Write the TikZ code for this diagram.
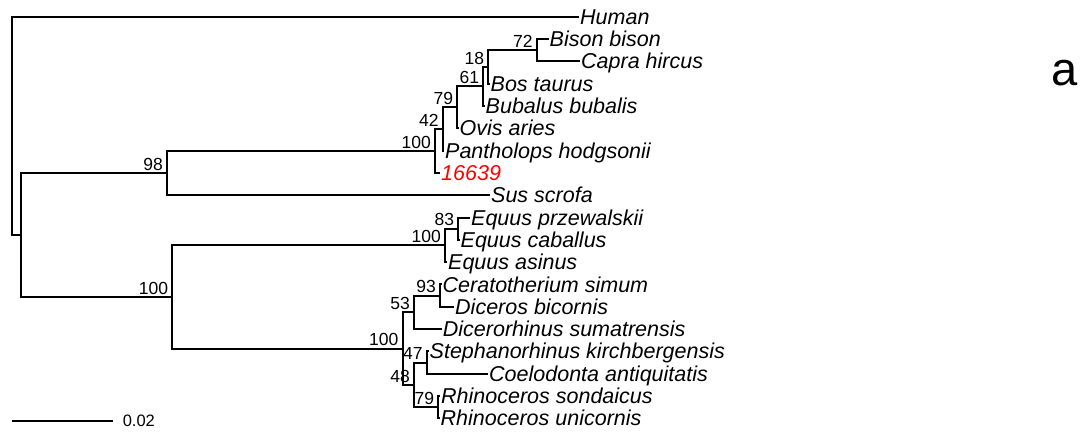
\documentclass[tikz,border=0pt]{standalone}
\usepackage{fontspec}
\setmainfont{Liberation Sans}
\definecolor{tipred}{RGB}{255,0,0}
\begin{document}
\begin{tikzpicture}[x=1pt,y=-1pt,
  branch/.style={line width=2pt, line join=miter},
  taxon/.style={anchor=base west, inner sep=0pt, font=\fontsize{21.5}{25}\selectfont\itshape, yshift=-7.6pt, xshift=1pt},
  boot/.style={anchor=base east, inner sep=0pt, font=\fontsize{17.5}{20}\selectfont, xshift=-4pt, yshift=2.8pt}]
\useasboundingbox (0,0) rectangle (1082,434);
% internal nodes
\coordinate (root) at (12,125.85);
\coordinate (in) at (21,235);
\coordinate (cet) at (167,173.05);
\coordinate (n100a) at (435,150.9);
\coordinate (n42) at (442.7,128.95);
\coordinate (n79) at (457.3,107.3);
\coordinate (n61) at (483.3,86.45);
\coordinate (n18) at (488.3,66.9);
\coordinate (n72) at (536.7,50.15);
\coordinate (per) at (172.3,297);
\coordinate (eq) at (445,245.4);
\coordinate (n83) at (458.3,228.65);
\coordinate (rh) at (402.5,348.55);
\coordinate (n53) at (414,312.3);
\coordinate (n93) at (440,295.55);
\coordinate (n48) at (414,384.8);
\coordinate (n47) at (426.7,362.5);
\coordinate (n79r) at (438.3,407.15);
% leaves
\coordinate (human) at (579,16.7);
\coordinate (bison) at (548.5,39.0);
\coordinate (capra) at (580,61.3);
\coordinate (bos) at (489.5,83.6);
\coordinate (bubalus) at (484.5,106);
\coordinate (ovis) at (458.5,128.2);
\coordinate (panth) at (444,150.6);
\coordinate (s16639) at (440,172.9);
\coordinate (sus) at (490,195.2);
\coordinate (eprz) at (470,217.5);
\coordinate (ecab) at (459.5,239.8);
\coordinate (easi) at (447,262.1);
\coordinate (cera) at (441.5,284.4);
\coordinate (dice) at (454,306.7);
\coordinate (dicer) at (441.7,329);
\coordinate (steph) at (428.5,351.3);
\coordinate (coel) at (488,373.7);
\coordinate (rson) at (440,396);
\coordinate (runi) at (439.5,418.3);
% branches
\draw[branch] (root) |- (human);
\draw[branch] (root) |- (in);
\draw[branch] (in) |- (cet);
\draw[branch] (in) |- (per);
\draw[branch] (cet) |- (n100a);
\draw[branch] (cet) |- (sus);
\draw[branch] (n100a) |- (n42);
\draw[branch] (n100a) |- (s16639);
\draw[branch] (n42) |- (n79);
\draw[branch] (n42) |- (panth);
\draw[branch] (n79) |- (n61);
\draw[branch] (n79) |- (ovis);
\draw[branch] (n61) |- (n18);
\draw[branch] (n61) |- (bubalus);
\draw[branch] (n18) |- (n72);
\draw[branch] (n18) |- (bos);
\draw[branch] (n72) |- (bison);
\draw[branch] (n72) |- (capra);
\draw[branch] (per) |- (eq);
\draw[branch] (per) |- (rh);
\draw[branch] (eq) |- (n83);
\draw[branch] (eq) |- (easi);
\draw[branch] (n83) |- (eprz);
\draw[branch] (n83) |- (ecab);
\draw[branch] (rh) |- (n53);
\draw[branch] (rh) |- (n48);
\draw[branch] (n53) |- (n93);
\draw[branch] (n53) |- (dicer);
\draw[branch] (n93) |- (cera);
\draw[branch] (n93) |- (dice);
\draw[branch] (n48) |- (n47);
\draw[branch] (n48) |- (n79r);
\draw[branch] (n47) |- (steph);
\draw[branch] (n47) |- (coel);
\draw[branch] (n79r) |- (rson);
\draw[branch] (n79r) |- (runi);
% taxon labels
\node[taxon] (thuman) at (human) {Human};
\node[taxon] (tbison) at (bison) {Bison bison};
\node[taxon] (tcapra) at (capra) {Capra hircus};
\node[taxon] (tbos) at (bos) {Bos taurus};
\node[taxon] (tbubalus) at (bubalus) {Bubalus bubalis};
\node[taxon] (tovis) at (ovis) {Ovis aries};
\node[taxon] (tpanth) at (panth) {Pantholops hodgsonii};
\node[taxon, text=tipred] (ts16639) at (s16639) {16639};
\node[taxon] (tsus) at (sus) {Sus scrofa};
\node[taxon] (teprz) at (eprz) {Equus przewalskii};
\node[taxon] (tecab) at (ecab) {Equus caballus};
\node[taxon] (teasi) at (easi) {Equus asinus};
\node[taxon] (tcera) at (cera) {Ceratotherium simum};
\node[taxon] (tdice) at (dice) {Diceros bicornis};
\node[taxon] (tdicer) at (dicer) {Dicerorhinus sumatrensis};
\node[taxon] (tsteph) at (steph) {Stephanorhinus kirchbergensis};
\node[taxon] (tcoel) at (coel) {Coelodonta antiquitatis};
\node[taxon] (trson) at (rson) {Rhinoceros sondaicus};
\node[taxon] (truni) at (runi) {Rhinoceros unicornis};
% bootstrap values
\node[boot] (bcet) at (cet) {98};
\node[boot] (b100a) at (n100a) {100};
\node[boot] (b42) at (n42) {42};
\node[boot] (b79) at (n79) {79};
\node[boot] (b61) at (n61) {61};
\node[boot] (b18) at (n18) {18};
\node[boot] (b72) at (n72) {72};
\node[boot] (bper) at (per) {100};
\node[boot] (beq) at (eq) {100};
\node[boot] (b83) at (n83) {83};
\node[boot] (brh) at (rh) {100};
\node[boot] (b53) at (n53) {53};
\node[boot] (b93) at (n93) {93};
\node[boot] (b48) at (n48) {48};
\node[boot] (b47) at (n47) {47};
\node[boot] (b79r) at (n79r) {79};
% scale bar
\coordinate (sbl) at (11.7,421);
\coordinate (sbr) at (113.3,421);
\draw[line width=1.6pt] (sbl) -- (sbr);
\node[anchor=base west, inner sep=0pt, font=\fontsize{16.5}{19}\selectfont] (sblabel) at (122.6,426.8) {0.02};
% panel letter
\node[anchor=base west, inner sep=0pt, font=\fontsize{47}{52}\selectfont] (panel) at (1051,85) {a};
\end{tikzpicture}
\end{document}
